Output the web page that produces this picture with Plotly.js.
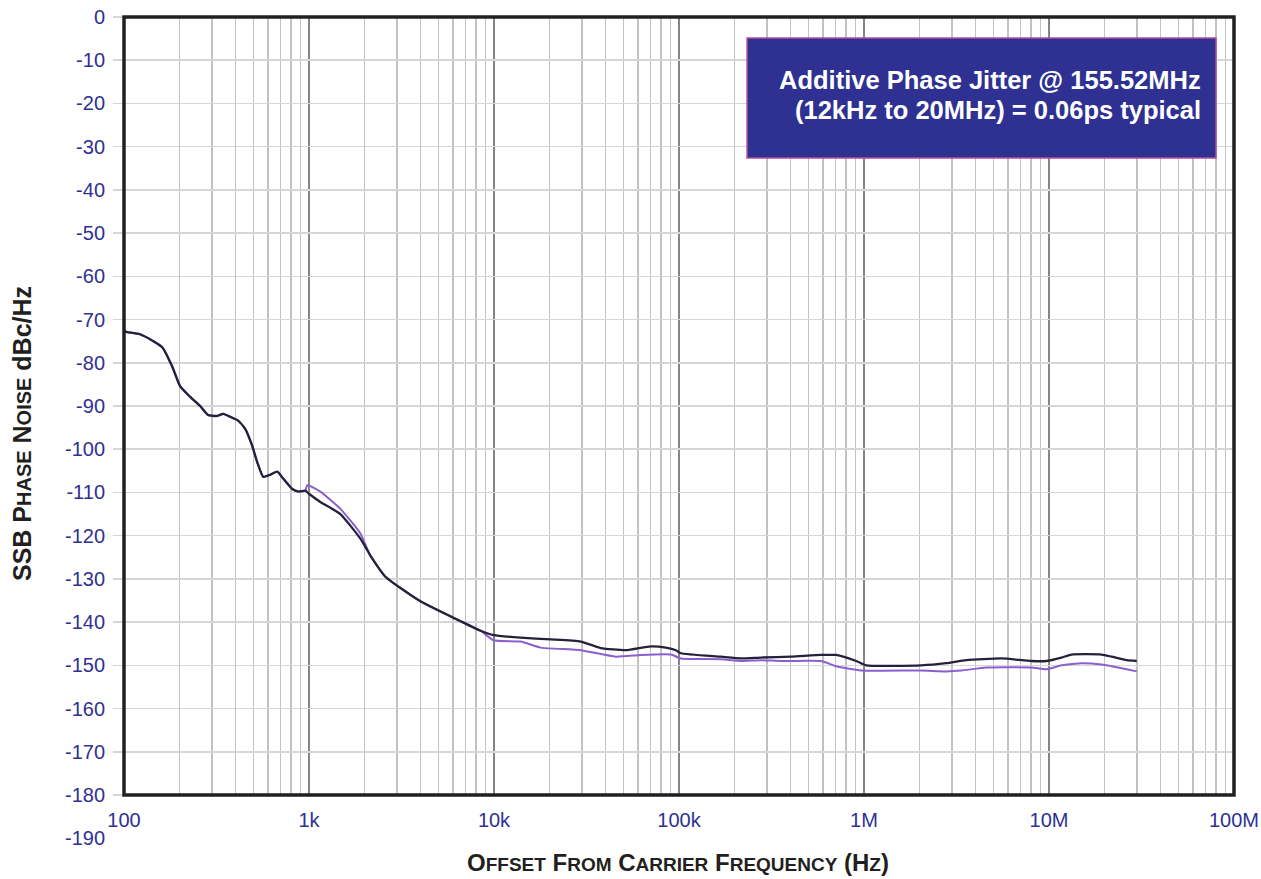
<!DOCTYPE html>
<html>
<head>
<meta charset="utf-8">
<script src="https://cdn.plot.ly/plotly-3.0.1.min.js"></script>
<style>
html,body{margin:0;padding:0;background:#fff;}
#chart{width:1261px;height:879px;}
</style>
</head>
<body>
<div id="chart"></div>
<script>
// Offset frequency (Hz) and SSB phase noise (dBc/Hz)
const freqBlack = [100,104,122,144,161,182,201,228,258,285,319,344,375,414,452,493,525,566,617,674,726,812,875,955,1000,1151,1477,1896,2147,2589,4005,6596,8464,9950,13930,20250,29430,37770,51590,70440,84950,96200,102400,168600,216400,277600,403500,586600,707300,907600,1028000,2040000,2787000,3576000,5530000,8040000,9690000,11690000,13240000,19240000,21800000,26300000,29800000];
const noiseBlack = [-72.7,-72.9,-73.4,-75,-76.4,-80.8,-85.4,-87.9,-90,-92.1,-92.3,-91.8,-92.5,-93.4,-95.3,-99.2,-103,-106.4,-105.9,-105.2,-106.8,-109.2,-109.8,-109.6,-110.3,-112.2,-115,-120.7,-124.6,-129.5,-135.2,-139.8,-142,-143,-143.6,-144,-144.5,-146,-146.5,-145.6,-145.9,-146.5,-147.2,-148,-148.4,-148.2,-148,-147.6,-147.6,-149,-150,-150,-149.5,-148.8,-148.4,-149,-149,-148.2,-147.5,-147.5,-148,-148.8,-149];

const freqPurple = [100,104,122,144,161,182,201,228,258,285,319,344,375,414,452,493,525,566,617,674,726,812,875,955,979,1151,1477,1896,2147,2589,4005,6596,8464,9950,13930,17880,29430,45540,62200,90400,102400,168600,216400,277600,356200,586600,707300,965600,2040000,2787000,3360000,4587000,8040000,9690000,11690000,15000000,19240000,21800000,26300000,29800000];
const noisePurple = [-72.7,-72.9,-73.4,-75,-76.4,-80.8,-85.4,-87.9,-90,-92.1,-92.3,-91.8,-92.5,-93.4,-95.3,-99.2,-103,-106.4,-105.9,-105.2,-106.8,-109.2,-109.8,-109.6,-108.3,-109.8,-113.8,-119.5,-124.6,-129.5,-135.2,-139.8,-142,-144.2,-144.5,-145.9,-146.5,-148,-147.6,-147.5,-148.4,-148.6,-149,-148.8,-149,-149,-150.2,-151.2,-151.2,-151.4,-151.2,-150.5,-150.5,-150.9,-150,-149.5,-149.8,-150.2,-150.9,-151.4];

const xTickVals = [100,1000,10000,100000,1000000,10000000,100000000];
const xTickText = ['100','1k','10k','100k','1M','10M','100M'];
const yTickVals = [0,-10,-20,-30,-40,-50,-60,-70,-80,-90,-100,-110,-120,-130,-140,-150,-160,-170,-180];
const yTickText = ['0','-10','-20','-30','-40','-50','-60','-70','-80','-90','-100','-110','-120','-130','-140','-150','-160','-170','-180'];
const extraYLabel = '-190';

const FONT = 'Liberation Sans, Arial, Helvetica, sans-serif';
const LABEL_COLOR = '#2e3192';

const traces = [
  {x: freqPurple, y: noisePurple, type:'scatter', mode:'lines', line:{color:'#8b5fd0', width:2, shape:'spline', smoothing:0.5}, hoverinfo:'x+y', showlegend:false},
  {x: freqBlack, y: noiseBlack, type:'scatter', mode:'lines', line:{color:'#26213a', width:2.3, shape:'spline', smoothing:0.5}, hoverinfo:'x+y', showlegend:false}
];

const sc = (s, px) => '<span style="font-size:' + px + 'px">' + s + '</span>';

const layout = {
  width:1261, height:879,
  margin:{l:124, r:27, t:17, b:84},
  paper_bgcolor:'#ffffff', plot_bgcolor:'#ffffff',
  font:{family:FONT, color:LABEL_COLOR, size:20},
  xaxis:{
    type:'log', range:[2,8],
    tickmode:'array', tickvals:xTickVals, ticktext:xTickText,
    showgrid:true, gridcolor:'#858585', gridwidth:2,
    ticks:'', ticklabelstandoff:11,
    tickfont:{family:FONT, size:20, color:LABEL_COLOR},
    minor:{dtick:'D1', showgrid:true, gridcolor:'#c2c2c2', gridwidth:1.6, ticks:''},
    zeroline:false, showline:false, fixedrange:true
  },
  yaxis:{
    range:[-180,0],
    tickmode:'array', tickvals:yTickVals, ticktext:yTickText,
    showgrid:true, gridcolor:'#d6d6d6', gridwidth:1.5,
    ticks:'outside', ticklen:10, tickcolor:'#d6d6d6', tickwidth:1.5,
    ticklabelstandoff:4,
    tickfont:{family:FONT, size:20, color:LABEL_COLOR},
    zeroline:false, showline:false, fixedrange:true
  },
  shapes:[
    {type:'rect', xref:'paper', yref:'paper', x0:0, x1:1, y0:0, y1:1, line:{color:'#231f20', width:3.5}, fillcolor:'rgba(0,0,0,0)', layer:'above'},
    {type:'rect', xref:'paper', yref:'paper', x0:0.5613, x1:0.9838, y0:0.8188, y1:0.973, line:{color:'#b0509a', width:1.5}, fillcolor:'#2e3192', layer:'above'}
  ],
  annotations:[
    {xref:'paper', yref:'paper', x:0, y:0, xanchor:'right', yanchor:'middle', xshift:-17, yshift:-43, text:extraYLabel, showarrow:false, font:{family:FONT, size:20, color:LABEL_COLOR}},
    {xref:'paper', yref:'paper', x:0.9721, y:0.919, xanchor:'right', yanchor:'middle', align:'right', showarrow:false,
     text:'<b>Additive Phase Jitter @ 155.52MHz</b>', font:{family:FONT, size:25.5, color:'#ffffff'}},
    {xref:'paper', yref:'paper', x:0.9721, y:0.8805, xanchor:'right', yanchor:'middle', align:'right', showarrow:false,
     text:'<b>(12kHz to 20MHz) = 0.06ps typical</b>', font:{family:FONT, size:25.5, color:'#ffffff'}},
    {xref:'paper', yref:'paper', x:0.499, y:0, yshift:-67, xanchor:'center', yanchor:'middle', showarrow:false,
     text:'<b>O'+sc('FFSET',19)+' F'+sc('ROM',19)+' C'+sc('ARRIER',19)+' F'+sc('REQUENCY',19)+' (H'+sc('Z',19)+')</b>', font:{family:FONT, size:24, color:'#231f20'}},
    {xref:'paper', yref:'paper', x:0, xshift:-102, y:0.464, xanchor:'center', yanchor:'middle', textangle:-90, showarrow:false,
     text:'<b>SSB P'+sc('HASE',20)+' N'+sc('OISE',20)+' dBc/Hz</b>', font:{family:FONT, size:25, color:'#231f20'}}
  ]
};

Plotly.newPlot('chart', traces, layout, {displayModeBar:false, staticPlot:true});
</script>
</body>
</html>
